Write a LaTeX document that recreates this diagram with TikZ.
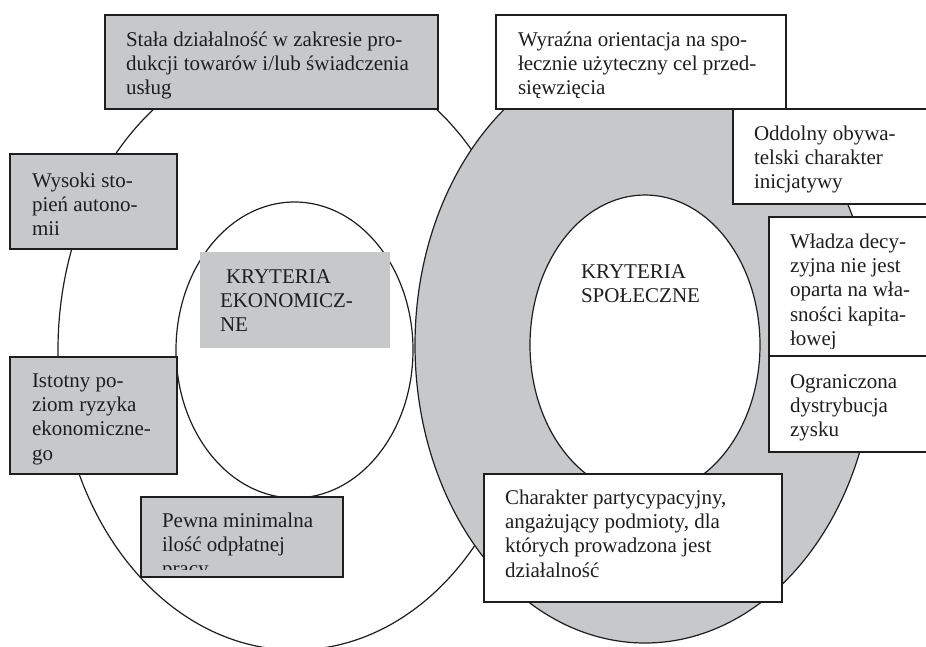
\documentclass[tikz,border=0pt]{standalone}
\usepackage{fontspec}
\setmainfont{Liberation Serif}
\definecolor{boxgray}{RGB}{199,200,202}
\definecolor{ink}{RGB}{30,30,30}
\tikzset{
  ell/.style={draw=ink, line width=1.2pt},
  boxbase/.style={rectangle, anchor=north west, outer sep=0pt, inner sep=0pt},
  gbox/.style={boxbase, draw=ink, line width=1.7pt, fill=boxgray},
  wbox/.style={boxbase, draw=ink, line width=1.7pt, fill=white},
  pbox/.style={boxbase, fill=boxgray},
  txt/.style={anchor=base west, inner sep=0pt, outer sep=0pt, font=\fontsize{21}{24.4}\selectfont, text=ink},
}
\newcommand\mylines[1]{\parbox[t]{400pt}{\raggedright #1}}
\newcommand\cliptext[5]{% box name, node name, x, y, text
  \begin{scope}
    \clip ([shift={(3pt,-3pt)}]#1.north west) rectangle ([shift={(-3pt,8pt)}]#1.south east);
    \node[txt] (#2) at (#3,#4) {\mylines{#5}};
  \end{scope}}
\begin{document}
\begin{tikzpicture}[x=1pt,y=-1pt]
\useasboundingbox (0,0) rectangle (926,646);
\clip (0,0) rectangle (926,646);
\fill[white] (0,0) rectangle (926,646);
% ellipses
\draw[ell, fill=white] (295,350) ellipse [x radius=237pt, y radius=300pt];
\draw[ell, fill=boxgray] (645,345) ellipse [x radius=230pt, y radius=298pt];
\draw[ell, fill=white] (294.5,350) ellipse [x radius=118.5pt, y radius=148pt];
\draw[ell, fill=white] (645,345) ellipse [x radius=115pt, y radius=150pt];
% economic criteria (grey boxes)
\node[gbox, minimum width=333pt, minimum height=94pt] (stala) at (105,15) {};
\cliptext{stala}{stala-t}{126}{46}{Stała działalność w zakresie pro-\\dukcji towarów i/lub świadczenia\\usług}
\node[gbox, minimum width=167pt, minimum height=95pt] (wysoki) at (10,154) {};
\cliptext{wysoki}{wysoki-t}{32}{187}{Wysoki sto-\\pień autono-\\mii}
\node[pbox, minimum width=190pt, minimum height=96pt] (ekon) at (200,252) {};
\node[txt] (ekon-t) at (220,283) {\mylines{\hspace*{6pt}KRYTERIA\\EKONOMICZ-\\NE}};
\node[gbox, minimum width=167pt, minimum height=117pt] (istotny) at (10,357) {};
\cliptext{istotny}{istotny-t}{32}{387}{Istotny po-\\ziom ryzyka\\ekonomiczne-\\go}
\node[gbox, minimum width=202pt, minimum height=80pt] (pewna) at (141,497) {};
\cliptext{pewna}{pewna-t}{162}{527}{Pewna minimalna\\ilość odpłatnej\\pracy}
% social criteria (white boxes)
\node[wbox, minimum width=290pt, minimum height=94pt] (wyrazna) at (496,15) {};
\cliptext{wyrazna}{wyrazna-t}{518}{46}{Wyraźna orientacja na spo-\\łecznie użyteczny cel przed-\\sięwzięcia}
\node[wbox, minimum width=210pt, minimum height=95pt] (oddolny) at (733,109) {};
\cliptext{oddolny}{oddolny-t}{754}{140}{Oddolny obywa-\\telski charakter\\inicjatywy}
\node[wbox, minimum width=175pt, minimum height=139pt] (wladza) at (769,217) {};
\cliptext{wladza}{wladza-t}{790}{248}{Władza decy-\\zyjna nie jest\\oparta na wła-\\sności kapita-\\łowej}
\node[wbox, minimum width=175pt, minimum height=96pt] (ogran) at (769,356) {};
\cliptext{ogran}{ogran-t}{790}{388}{Ograniczona\\dystrybucja\\zysku}
\node[wbox, minimum width=298pt, minimum height=128pt] (charakter) at (484,474) {};
\cliptext{charakter}{charakter-t}{505}{504}{Charakter partycypacyjny,\\angażujący podmioty, dla\\których prowadzona jest\\działalność}
\node[txt] (spol-t) at (581,278) {\mylines{KRYTERIA\\SPOŁECZNE}};
\end{tikzpicture}
\end{document}
